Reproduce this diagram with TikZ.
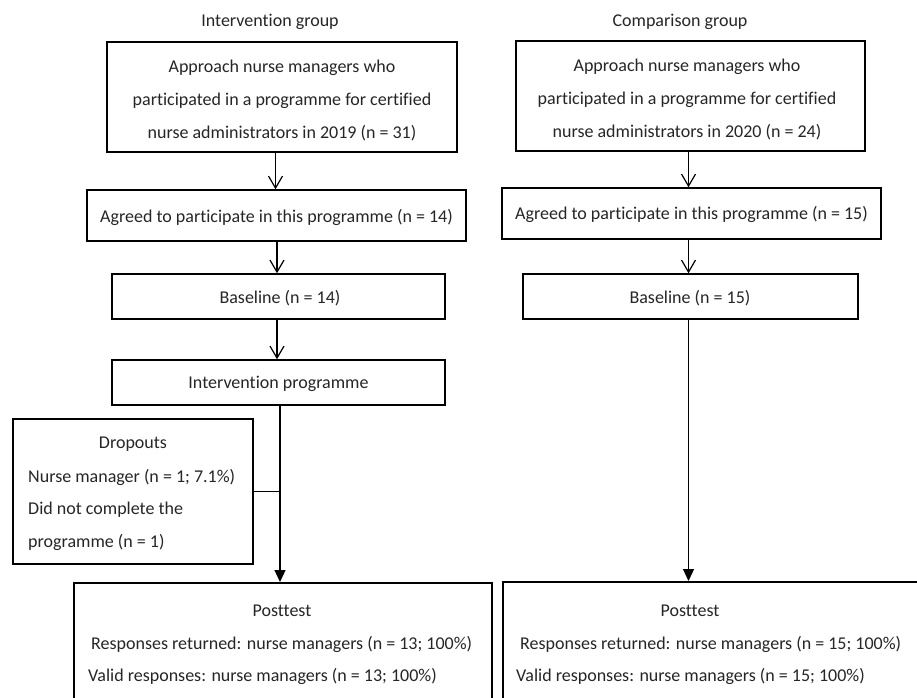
\documentclass[tikz,border=0pt]{standalone}
\usepackage{fontspec}
\setmainfont{Carlito}[Ligatures={NoCommon}]
\usetikzlibrary{arrows.meta}
\begin{document}
\begin{tikzpicture}[x=1pt,y=-1pt,
  box/.style={draw, line width=1.5pt, inner sep=0pt},
  txt/.style={inner sep=0pt, font=\fontsize{18}{33}\selectfont, text=black!85},
  openarrow/.style={line width=1.2pt, -{Straight Barb[length=12pt,width=14pt,line width=1.2pt]}},
  fillarrow/.style={line width=1.2pt, -{Triangle[length=12pt,width=11pt]}}]
\useasboundingbox (0,0) rectangle (917,697);
\fill[white] (0,0) rectangle (917,697);
% titles
\node[txt] (tI) at (270,22) {Intervention group};
\node[txt] (tC) at (680,22) {Comparison group};
% intervention column
\node[box, minimum width=350pt, minimum height=110pt] (a1) at (282,97) {};
\node[txt, align=center] (a1t) at (282,100) {Approach nurse managers who\\participated in a programme for certified\\nurse administrators in 2019 (n = 31)};
\node[box, minimum width=379pt, minimum height=51pt] (b1) at (276.5,215.5) {};
\node[txt] (b1t) at (276.5,217) {Agreed to participate in this programme (n = 14)};
\node[box, minimum width=333pt, minimum height=45pt] (c1) at (278.5,296.5) {};
\node[txt] (c1t) at (280,298) {Baseline (n = 14)};
\node[box, minimum width=333pt, minimum height=45pt] (d1) at (278.5,382.5) {};
\node[txt] (d1t) at (278.5,384) {Intervention programme};
\node[box, minimum width=240pt, minimum height=145pt] (drop) at (133,491.5) {};
\node[txt] (dr0) at (133,444) {Dropouts};
\node[txt, anchor=west] (dr1) at (28,477) {Nurse manager (n = 1; 7.1\%)};
\node[txt, anchor=west] (dr2) at (28,510) {Did not complete the};
\node[txt, anchor=west] (dr3) at (28,542) {programme (n = 1)};
\node[box, minimum width=418pt, minimum height=150pt, anchor=north west] (p1) at (73,582) {};
\node[txt] (p1t) at (282,611) {Posttest};
\node[txt, anchor=west] (p1r) at (91,644) {Responses returned: nurse managers (n = 13; 100\%)};
\node[txt, anchor=west] (p1v) at (88,676) {Valid responses: nurse managers (n = 13; 100\%)};
% comparison column
\node[box, minimum width=349pt, minimum height=110pt] (a2) at (690.5,96) {};
\node[txt, align=center] (a2t) at (687,99) {Approach nurse managers who\\participated in a programme for certified\\nurse administrators in 2020 (n = 24)};
\node[box, minimum width=379pt, minimum height=51pt] (b2) at (691.5,213.5) {};
\node[txt] (b2t) at (691.5,214) {Agreed to participate in this programme (n = 15)};
\node[box, minimum width=335pt, minimum height=45pt] (c2) at (690.5,296.5) {};
\node[txt] (c2t) at (690,298) {Baseline (n = 15)};
\node[box, minimum width=440pt, minimum height=150pt, anchor=north west] (p2) at (502,581) {};
\node[txt] (p2t) at (690,611) {Posttest};
\node[txt, anchor=west] (p2r) at (520,644) {Responses returned: nurse managers (n = 15; 100\%)};
\node[txt, anchor=west] (p2v) at (516,676) {Valid responses: nurse managers (n = 15; 100\%)};
% connectors
\coordinate (xL1) at (275.5,0);
\coordinate (xL2) at (277,0);
\coordinate (xL3) at (280,0);
\draw[openarrow, line width=1.8pt] (a1.south -| xL1) -- (b1.north -| xL1);
\draw[openarrow] (b1.south -| xL2) -- (c1.north -| xL2);
\draw[openarrow] (c1.south -| xL2) -- (d1.north -| xL2);
\draw[line width=1.2pt] (drop.east) -- (drop.east -| xL3);
\draw[fillarrow] (d1.south -| xL3) -- (p1.north -| xL3);
\coordinate (xR) at (688.5,0);
\draw[openarrow] (a2.south -| xR) -- (b2.north -| xR);
\draw[openarrow] (b2.south -| xR) -- (c2.north -| xR);
\draw[fillarrow] (c2.south -| xR) -- (p2.north -| xR);
\end{tikzpicture}
\end{document}
